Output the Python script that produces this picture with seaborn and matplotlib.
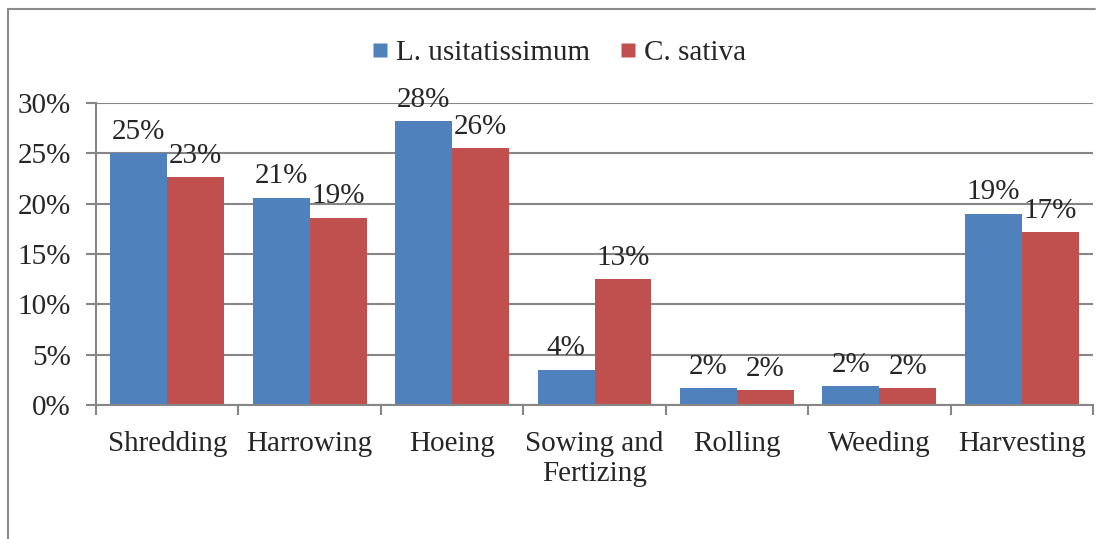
import matplotlib
matplotlib.use('Agg')
import matplotlib.pyplot as plt
import numpy as np
import pandas as pd
import seaborn as sns
from matplotlib.lines import Line2D
from matplotlib.ticker import FixedLocator, FuncFormatter

# data
categories = ['Shredding', 'Harrowing', 'Hoeing', 'Sowing and\nFertizing', 'Rolling', 'Weeding', 'Harvesting']
linum = [25.0, 20.6, 28.2, 3.5, 1.7, 1.9, 19.0]
cannabis = [22.6, 18.6, 25.5, 12.5, 1.5, 1.7, 17.2]
linum_labels = ['25%', '21%', '28%', '4%', '2%', '2%', '19%']
cannabis_labels = ['23%', '19%', '26%', '13%', '2%', '2%', '17%']
series = ['L. usitatissimum', 'C. sativa']
colors = ['#4F81BD', '#C0504D']

df = pd.DataFrame({
    'cat': categories * 2,
    'val': linum + cannabis,
    'series': [series[0]] * 7 + [series[1]] * 7,
})

sns.set_style('white')
plt.rcParams['font.family'] = ['Liberation Serif', 'DejaVu Serif']
FS = 21

fig = plt.figure(figsize=(10.97, 5.39), dpi=100)
ax = fig.add_axes([0.0875, 0.2486, 0.9089, 0.5603])

sns.barplot(data=df, x='cat', y='val', hue='series', palette=colors,
            order=categories, hue_order=series, width=0.8, saturation=1,
            edgecolor='none', ax=ax)

# value labels
for cont, labs in zip(ax.containers, [linum_labels, cannabis_labels]):
    ax.bar_label(cont, labels=labs, padding=6, fontsize=FS)

ax.set_ylim(0, 30)
ax.set_xlim(-0.5, 6.5)
ax.set_yticks(np.arange(0, 31, 5))
ax.yaxis.set_major_formatter(FuncFormatter(lambda v, p: f'{int(v)}%'))
ax.yaxis.grid(True, color='#868686', linewidth=1.5)
ax.set_axisbelow(True)
ax.set_xlabel('')
ax.set_ylabel('')

for s in ['top', 'right']:
    ax.spines[s].set_visible(False)
for s in ['left', 'bottom']:
    ax.spines[s].set_color('#868686')
    ax.spines[s].set_linewidth(1.5)

ax.tick_params(axis='y', labelsize=FS, length=7, width=1.5, color='#868686',
               direction='out', left=True, pad=11)
ax.tick_params(axis='x', which='major', labelsize=FS, length=0, pad=19)
ax.xaxis.set_minor_locator(FixedLocator(np.arange(-0.5, 7, 1)))
ax.tick_params(axis='x', which='minor', length=7, width=1.5, color='#868686',
               direction='out', bottom=True)
for t in ax.get_xticklabels():
    t.set_linespacing(1.2)

ax.legend_.remove()
handles = [Line2D([], [], marker='s', linestyle='none', markersize=10,
                  markerfacecolor=c, markeredgecolor='none') for c in colors]
fig.legend(handles, series, loc='center', bbox_to_anchor=(0.509, 0.902),
           ncol=2, frameon=False, fontsize=FS, handletextpad=0.2,
           columnspacing=0.95, handlelength=0.7)

# outer chart border (partially visible in the reference)
fig.add_artist(Line2D([8 / 1097, 8 / 1097], [0, 1 - 9 / 539], color='#8c8c8c',
                      linewidth=1.5, transform=fig.transFigure))
fig.add_artist(Line2D([8 / 1097, 1095 / 1097], [1 - 9 / 539, 1 - 9 / 539],
                      color='#8c8c8c', linewidth=1.5, transform=fig.transFigure))

fig.savefig('out.png', dpi=100)
